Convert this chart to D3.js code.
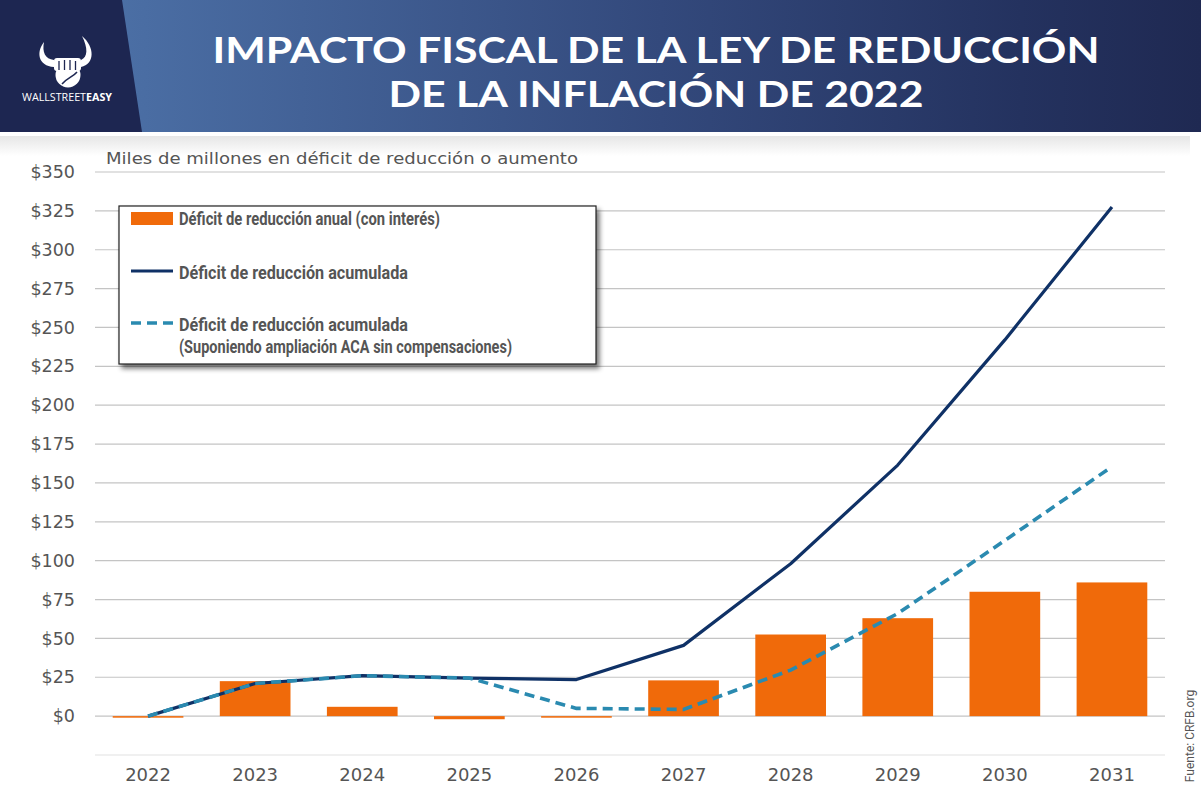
<!DOCTYPE html>
<html>
<head>
<meta charset="utf-8">
<script src="https://cdn.jsdelivr.net/npm/d3@7"></script>
<style>
  body { margin: 0; background: #fff; }
  svg { display: block; }
</style>
</head>
<body>
<div id="chart"></div>
<script>
// values (billions of $)
const years = ["2022", "2023", "2024", "2025", "2026", "2027", "2028", "2029", "2030", "2031"];
const annual = [-1, 22.5, 6, -2, -1, 23, 52.5, 63, 80, 86];
const cumulative = [0, 21, 26, 24.5, 23.5, 45.5, 98, 161.5, 242, 327.5];
const cumulativeAca = [0, 21, 26, 24.5, 5, 4.3, 29.6, 66, 113, 160.5];
const yTicks = [0, 25, 50, 75, 100, 125, 150, 175, 200, 225, 250, 275, 300, 325, 350];
const legendLabels = [
  "Déficit de reducción anual (con interés)",
  "Déficit de reducción acumulada",
  "Déficit de reducción acumulada",
  "(Suponiendo ampliación ACA sin compensaciones)"
];

const width = 1201;
const height = 808;
const orange = "#f06a0a";
const navy = "#0f3166";
const teal = "#2a8ab0";
const textGray = "#555";

const svg = d3.select("#chart")
  .append("svg")
  .attr("width", width)
  .attr("height", height);

const defs = svg.append("defs");

const hdrGrad = defs.append("linearGradient")
  .attr("id", "hdr").attr("x1", 0).attr("x2", 1).attr("y1", 0).attr("y2", 0);
hdrGrad.append("stop").attr("offset", "0%").attr("stop-color", "#5078ac");
hdrGrad.append("stop").attr("offset", "12%").attr("stop-color", "#4a6da3");
hdrGrad.append("stop").attr("offset", "55%").attr("stop-color", "#33497c");
hdrGrad.append("stop").attr("offset", "85%").attr("stop-color", "#24325f");
hdrGrad.append("stop").attr("offset", "100%").attr("stop-color", "#1f2952");

const shadeGrad = defs.append("linearGradient")
  .attr("id", "shade").attr("x1", 0).attr("x2", 0).attr("y1", 0).attr("y2", 1);
shadeGrad.append("stop").attr("offset", "0%").attr("stop-color", "#e6e6e6");
shadeGrad.append("stop").attr("offset", "100%").attr("stop-color", "#ffffff");

const blur = defs.append("filter").attr("id", "dropShadow")
  .attr("x", "-5%").attr("y", "-5%").attr("width", "115%").attr("height", "125%");
blur.append("feGaussianBlur").attr("in", "SourceAlpha").attr("stdDeviation", 2.5);
blur.append("feOffset").attr("dx", 3).attr("dy", 4).attr("result", "off");
blur.append("feComponentTransfer").append("feFuncA").attr("type", "linear").attr("slope", 0.55);
const merge = blur.append("feMerge");
merge.append("feMergeNode");
merge.append("feMergeNode").attr("in", "SourceGraphic");

// Header
svg.append("rect").attr("width", width).attr("height", 132).attr("fill", "url(#hdr)");
svg.append("path")
  .attr("d", "M0,0 L122,0 L142,132 L0,132 Z")
  .attr("fill", "#1d2651");
svg.append("rect").attr("x", 0).attr("y", 136).attr("width", 1190).attr("height", 20)
  .attr("fill", "url(#shade)");

// Logo (simple bull with fist)
const logo = svg.append("g").attr("fill", "#fff");
logo.append("path")
  .attr("d", "M44,42 C36,52 38,66 54,67 L54,60 C45,59 42,52 44,42 Z");
logo.append("path")
  .attr("d", "M82,36 C95,47 95,64 81,67 L81,60 C88,57 88,48 82,36 Z");
logo.append("circle").attr("cx", 68).attr("cy", 75).attr("r", 12.5);
logo.append("rect").attr("x", 54).attr("y", 58).attr("width", 27).attr("height", 13).attr("rx", 3);
logo.append("path")
  .attr("d", "M59,61 L59,70 M64.5,60 L64.5,70 M70,60 L70,70 M75.5,61 L75.5,70")
  .attr("stroke", "#1d2651").attr("stroke-width", 1.3);
logo.append("path")
  .attr("d", "M62,84 C67,78 73,77 77,72")
  .attr("fill", "none").attr("stroke", "#1d2651").attr("stroke-width", 1.5);
const logoText = svg.append("text")
  .attr("x", 67).attr("y", 101)
  .attr("text-anchor", "middle")
  .attr("font-family", "Open Sans, sans-serif")
  .attr("font-size", 11)
  .attr("fill", "#fff")
  .attr("textLength", 90)
  .attr("lengthAdjust", "spacingAndGlyphs");
logoText.append("tspan").attr("font-weight", 400).text("WALLSTREET");
logoText.append("tspan").attr("font-weight", 700).text("EASY");

// Title
const titleLines = [
  { text: "IMPACTO FISCAL DE LA LEY DE REDUCCIÓN", y: 62.5, len: 887 },
  { text: "DE LA INFLACIÓN DE 2022", y: 106.5, len: 535 }
];
svg.selectAll(".title")
  .data(titleLines)
  .enter()
  .append("text")
  .attr("class", "title")
  .attr("x", 656)
  .attr("y", d => d.y)
  .attr("text-anchor", "middle")
  .attr("font-family", "Lato, sans-serif")
  .attr("font-weight", 700)
  .attr("font-size", 36)
  .attr("fill", "#fff")
  .attr("textLength", d => d.len)
  .attr("lengthAdjust", "spacingAndGlyphs")
  .text(d => d.text);

// Scales
const x = d3.scaleBand()
  .domain(years)
  .range([94.5, 1165.5])
  .paddingInner(0.34)
  .paddingOuter(0.17);

const y = d3.scaleLinear()
  .domain([-25, 350])
  .range([755, 172]);

// Grid
svg.append("g")
  .selectAll("line")
  .data(yTicks.concat([-25]))
  .enter()
  .append("line")
  .attr("x1", 95)
  .attr("x2", 1165)
  .attr("y1", d => y(d))
  .attr("y2", d => y(d))
  .attr("stroke", d => d === -25 ? "#e2e2e2" : "#c4c4c4")
  .attr("stroke-width", 1.2);

// Y axis labels
const yAxis = svg.append("g")
  .attr("transform", "translate(95,0)")
  .call(d3.axisLeft(y).tickValues(yTicks).tickSize(0).tickPadding(20).tickFormat(d => "$" + d));
yAxis.select(".domain").remove();
yAxis.selectAll("text")
  .attr("font-family", "DejaVu Sans, sans-serif")
  .attr("font-size", 17.5)
  .attr("fill", textGray);

// X axis labels
const xAxis = svg.append("g")
  .attr("transform", "translate(0,768)")
  .call(d3.axisBottom(x).tickSize(0).tickPadding(0));
xAxis.select(".domain").remove();
xAxis.selectAll("text")
  .attr("font-family", "DejaVu Sans, sans-serif")
  .attr("font-size", 18)
  .attr("fill", textGray);

// Subtitle
svg.append("text")
  .attr("x", 106)
  .attr("y", 164)
  .attr("font-family", "DejaVu Sans, sans-serif")
  .attr("font-size", 15.5)
  .attr("fill", textGray)
  .attr("textLength", 472)
  .attr("lengthAdjust", "spacingAndGlyphs")
  .text("Miles de millones en déficit de reducción o aumento");

// Bars
svg.append("g")
  .selectAll("rect")
  .data(annual)
  .enter()
  .append("rect")
  .attr("x", (d, i) => x(years[i]))
  .attr("y", d => Math.min(y(d), y(0)))
  .attr("width", x.bandwidth())
  .attr("height", d => Math.abs(y(0) - y(d)))
  .attr("fill", orange);

// Lines
const line = d3.line()
  .x((d, i) => x(years[i]) + x.bandwidth() / 2)
  .y(d => y(d));

svg.append("path")
  .datum(cumulative)
  .attr("d", line)
  .attr("fill", "none")
  .attr("stroke", navy)
  .attr("stroke-width", 3.2)
  .attr("stroke-linejoin", "round");

svg.append("path")
  .datum(cumulativeAca)
  .attr("d", line)
  .attr("fill", "none")
  .attr("stroke", teal)
  .attr("stroke-width", 3.6)
  .attr("stroke-dasharray", "10,6");

// Legend
const legend = svg.append("g");
legend.append("rect")
  .attr("x", 119).attr("y", 206)
  .attr("width", 477).attr("height", 158)
  .attr("fill", "#fff")
  .attr("stroke", "#222")
  .attr("stroke-width", 1.2)
  .attr("filter", "url(#dropShadow)");

legend.append("rect")
  .attr("x", 131).attr("y", 212)
  .attr("width", 42).attr("height", 13)
  .attr("fill", orange);
legend.append("line")
  .attr("x1", 131).attr("x2", 173).attr("y1", 271).attr("y2", 271)
  .attr("stroke", navy).attr("stroke-width", 3);
legend.append("line")
  .attr("x1", 131).attr("x2", 173).attr("y1", 323).attr("y2", 323)
  .attr("stroke", teal).attr("stroke-width", 3.6).attr("stroke-dasharray", "10,6");

const legendY = [224.5, 278.5, 330.5, 353];
const legendLen = [261, 229, 229, 333];
legend.selectAll(".lg")
  .data(legendLabels)
  .enter()
  .append("text")
  .attr("class", "lg")
  .attr("x", 179)
  .attr("y", (d, i) => legendY[i])
  .attr("font-family", "Liberation Sans Narrow, Roboto, sans-serif")
  .attr("font-weight", 700)
  .attr("font-size", 18.5)
  .attr("fill", textGray)
  .attr("textLength", (d, i) => legendLen[i])
  .attr("lengthAdjust", "spacingAndGlyphs")
  .text(d => d);

// Source
svg.append("text")
  .attr("transform", "translate(1194,736) rotate(-90)")
  .attr("text-anchor", "middle")
  .attr("font-family", "Liberation Sans Narrow, Roboto, sans-serif")
  .attr("font-size", 12)
  .attr("fill", textGray)
  .text("Fuente: CRFB.org");
</script>
</body>
</html>
